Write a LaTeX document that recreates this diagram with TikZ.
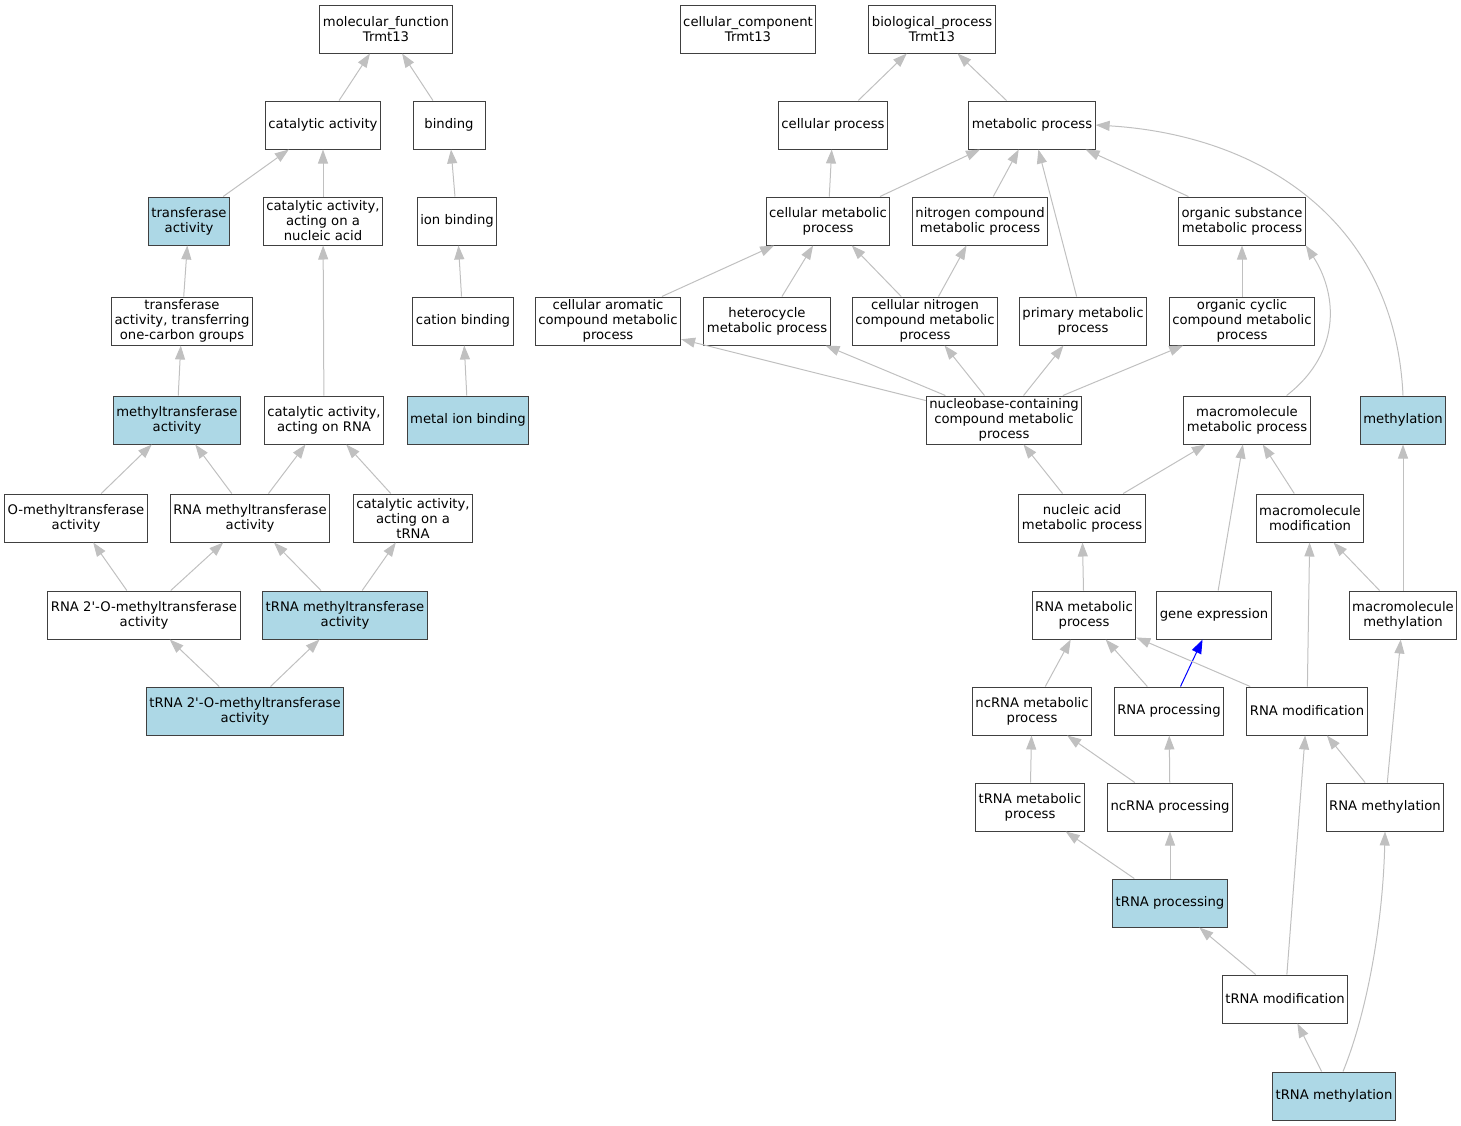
\documentclass[tikz,border=0pt]{standalone}
\usepackage{fontspec}
\newfontfamily\gofont{DejaVu Sans}
\usetikzlibrary{arrows.meta}
\definecolor{edgegray}{HTML}{C0C0C0}
\definecolor{hitblue}{HTML}{ADD8E6}
\begin{document}
\begin{tikzpicture}[x=1pt, y=-1pt,
    term/.style={rectangle, draw=black!75, line width=1pt, fill=white, align=center,
        minimum height=48pt, minimum width=72pt, inner xsep=3pt, inner ysep=2pt,
        font=\gofont\fontsize{13.2}{15}\selectfont},
    hit/.style={term, fill=hitblue},
    isa/.style={draw=edgegray, line width=1pt, -{Triangle[length=14pt,width=10pt]}},
    reg/.style={isa, draw=blue}]
        \useasboundingbox (0,0) rectangle (1461,1125);

        % Nodes
        \node (mf) at (386,29) [term] {molecular\_function\\Trmt13};
        \node (cc) at (748,29) [term] {cellular\_component\\Trmt13};
        \node (bp) at (932,29) [term] {biological\_process\\Trmt13};

        \node (catact) at (323,125) [term] {catalytic activity};
        \node (bind) at (449,125) [term] {binding};
        \node (cellproc) at (833,125) [term] {cellular process};
        \node (metproc) at (1032,125) [term] {metabolic process};

        \node (transf) at (189,221) [hit] {transferase\\activity};
        \node (catnuc) at (323,221) [term] {catalytic activity,\\acting on a\\nucleic acid};
        \node (ionbind) at (457,221) [term] {ion binding};
        \node (cellmet) at (828,221) [term] {cellular metabolic\\process};
        \node (nitmet) at (980,221) [term] {nitrogen compound\\metabolic process};
        \node (orgsub) at (1242,221) [term] {organic substance\\metabolic process};

        \node (onecarb) at (182,321) [term] {transferase\\activity, transferring\\one-carbon groups};
        \node (catbind) at (463,321) [term] {cation binding};
        \node (aromet) at (608,321) [term] {cellular aromatic\\compound metabolic\\process};
        \node (hetmet) at (767,321) [term] {heterocycle\\metabolic process};
        \node (cnitmet) at (925,321) [term] {cellular nitrogen\\compound metabolic\\process};
        \node (primet) at (1083,321) [term] {primary metabolic\\process};
        \node (cycmet) at (1242,321) [term] {organic cyclic\\compound metabolic\\process};

        \node (methtr) at (177,420) [hit] {methyltransferase\\activity};
        \node (catrna) at (324,420) [term] {catalytic activity,\\acting on RNA};
        \node (metion) at (468,420) [hit] {metal ion binding};
        \node (nucbase) at (1004,420) [term] {nucleobase-containing\\compound metabolic\\process};
        \node (macmet) at (1247,420) [term] {macromolecule\\metabolic process};
        \node (meth) at (1403,420) [hit] {methylation};

        \node (omethtr) at (76,518) [term] {O-methyltransferase\\activity};
        \node (rnamethtr) at (250,518) [term] {RNA methyltransferase\\activity};
        \node (cattrna) at (413,518) [term] {catalytic activity,\\acting on a\\tRNA};
        \node (nucmet) at (1082,518) [term] {nucleic acid\\metabolic process};
        \node (macmod) at (1310,518) [term] {macromolecule\\modification};

        \node (rnaomt) at (144,615) [term] {RNA 2'-O-methyltransferase\\activity};
        \node (trnamethtr) at (345,615) [hit] {tRNA methyltransferase\\activity};
        \node (rnamet) at (1084,615) [term] {RNA metabolic\\process};
        \node (genexp) at (1214,615) [term] {gene expression};
        \node (macmeth) at (1403,615) [term] {macromolecule\\methylation};

        \node (trnaomt) at (245,711) [hit] {tRNA 2'-O-methyltransferase\\activity};
        \node (ncmet) at (1032,711) [term] {ncRNA metabolic\\process};
        \node (rnaproc) at (1169,711) [term] {RNA processing};
        \node (rnamod) at (1307,711) [term] {RNA modification};

        \node (trnamet) at (1030,807) [term] {tRNA metabolic\\process};
        \node (ncproc) at (1170,807) [term] {ncRNA processing};
        \node (rnameth) at (1385,807) [term] {RNA methylation};

        \node (trnaproc) at (1170,903) [hit] {tRNA processing};
        \node (trnamod) at (1285,999) [term] {tRNA modification};
        \node (trnameth) at (1334,1096) [hit] {tRNA methylation};

        % Edges
        \draw[isa] (catact) -- (mf);
        \draw[isa] (bind) -- (mf);
        \draw[isa] (cellproc) -- (bp);
        \draw[isa] (metproc) -- (bp);
        \draw[isa] (transf) -- (catact);
        \draw[isa] (catnuc) -- (catact);
        \draw[isa] (ionbind) -- (bind);
        \draw[isa] (cellmet) -- (cellproc);
        \draw[isa] (cellmet) -- (metproc);
        \draw[isa] (nitmet) -- (metproc);
        \draw[isa] (primet) -- (metproc);
        \draw[isa] (orgsub) -- (metproc);
        \draw[isa] (meth.north) .. controls (1395,220) and (1260,135) .. (metproc.east);
        \draw[isa] (onecarb) -- (transf);
        \draw[isa] (catbind) -- (ionbind);
        \draw[isa] (metion) -- (catbind);
        \draw[isa] (aromet) -- (cellmet);
        \draw[isa] (hetmet) -- (cellmet);
        \draw[isa] (cnitmet) -- (cellmet);
        \draw[isa] (cnitmet) -- (nitmet);
        \draw[isa] (cycmet) -- (orgsub);
        \draw[isa] (macmet.north east) ++(-24,0) .. controls (1345,350) and (1335,290) .. (orgsub.south east);
        \draw[isa] (methtr) -- (onecarb);
        \draw[isa] (catrna) -- (catnuc);
        \draw[isa] (nucbase) -- (aromet);
        \draw[isa] (nucbase) -- (hetmet);
        \draw[isa] (nucbase) -- (cnitmet);
        \draw[isa] (nucbase) -- (primet);
        \draw[isa] (nucbase) -- (cycmet);
        \draw[isa] (omethtr) -- (methtr);
        \draw[isa] (rnamethtr) -- (methtr);
        \draw[isa] (rnamethtr) -- (catrna);
        \draw[isa] (cattrna) -- (catrna);
        \draw[isa] (nucmet) -- (nucbase);
        \draw[isa] (nucmet) -- (macmet);
        \draw[isa] (macmod) -- (macmet);
        \draw[isa] (genexp) -- (macmet);
        \draw[isa] (rnaomt) -- (omethtr);
        \draw[isa] (rnaomt) -- (rnamethtr);
        \draw[isa] (trnamethtr) -- (rnamethtr);
        \draw[isa] (trnamethtr) -- (cattrna);
        \draw[isa] (rnamet) -- (nucmet);
        \draw[isa] (macmeth) -- (macmod);
        \draw[isa] (macmeth) -- (meth);
        \draw[isa] (trnaomt) -- (rnaomt);
        \draw[isa] (trnaomt) -- (trnamethtr);
        \draw[isa] (ncmet) -- (rnamet);
        \draw[isa] (rnaproc) -- (rnamet);
        \draw[reg] (rnaproc) -- (genexp);
        \draw[isa] (rnamod) -- (rnamet);
        \draw[isa] (rnamod) -- (macmod);
        \draw[isa] (trnamet) -- (ncmet);
        \draw[isa] (ncproc) -- (ncmet);
        \draw[isa] (ncproc) -- (rnaproc);
        \draw[isa] (rnameth) -- (rnamod);
        \draw[isa] (rnameth) -- (macmeth);
        \draw[isa] (trnaproc) -- (trnamet);
        \draw[isa] (trnaproc) -- (ncproc);
        \draw[isa] (trnamod) -- (trnaproc);
        \draw[isa] (trnamod) -- (rnamod);
        \draw[isa] (trnameth) -- (trnamod);
        \draw[isa] (trnameth.north) ++(9,0) .. controls (1368,1010) and (1383,920) .. (rnameth.south);
    \end{tikzpicture}
\end{document}
